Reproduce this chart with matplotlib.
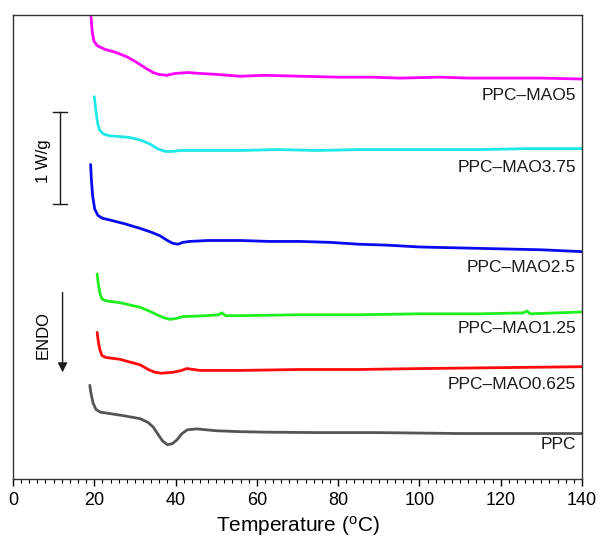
import matplotlib.pyplot as plt
from matplotlib.ticker import MultipleLocator

plt.rcParams['font.family'] = ['Liberation Sans', 'DejaVu Sans']
plt.rcParams['mathtext.fontset'] = 'custom'
plt.rcParams['mathtext.rm'] = 'Liberation Sans'

# DSC traces, heat flow stacked in W/g (T in degC)
t_mao5 = [19.1, 19.3, 19.5, 19.9, 20.7, 22.6, 25.1, 28.0, 30.4, 32.9, 34.5, 35.8, 37.8,
          39.9, 43.0, 46.0, 50.0, 55.9, 62.0, 70.6, 80.0, 88.0, 95.2, 105.0, 112.0,
          119.8, 130.0, 140.0]
hf_mao5 = [5.05, 4.92, 4.82, 4.72, 4.67, 4.63, 4.60, 4.55, 4.49, 4.42, 4.38, 4.36, 4.35,
           4.37, 4.38, 4.37, 4.36, 4.34, 4.35, 4.34, 4.33, 4.33, 4.32, 4.33, 4.32,
           4.32, 4.32, 4.31]

t_mao375 = [20.0, 20.4, 20.8, 21.3, 22.2, 23.5, 28.8, 31.5, 33.7, 35.5, 37.4, 39.1,
            41.1, 48.0, 55.9, 65.0, 75.0, 85.0, 100.0, 115.0, 127.0, 140.0]
hf_mao375 = [4.12, 3.97, 3.84, 3.76, 3.72, 3.70, 3.68, 3.65, 3.61, 3.56, 3.53, 3.53,
             3.54, 3.54, 3.54, 3.55, 3.54, 3.55, 3.55, 3.55, 3.56, 3.56]

t_mao25 = [19.1, 19.3, 19.6, 20.1, 20.9, 22.0, 23.9, 27.5, 31.3, 34.0, 36.2, 38.0,
           39.3, 40.6, 41.8, 43.5, 48.0, 55.9, 63.0, 70.6, 78.0, 85.0, 92.0, 100.1,
           110.0, 119.8, 130.0, 140.0]
hf_mao25 = [3.39, 3.22, 3.05, 2.91, 2.84, 2.81, 2.79, 2.75, 2.70, 2.66, 2.62, 2.57,
            2.54, 2.53, 2.55, 2.56, 2.57, 2.57, 2.56, 2.56, 2.55, 2.53, 2.52, 2.50,
            2.49, 2.48, 2.47, 2.45]

t_mao125 = [20.7, 21.0, 21.4, 21.9, 22.8, 26.3, 31.3, 33.5, 35.4, 37.0, 38.6, 40.2,
            41.8, 47.7, 50.6, 51.4, 52.3, 55.9, 70.6, 85.0, 100.1, 115.0, 125.6,
            126.4, 127.3, 140.0]
hf_mao125 = [2.21, 2.10, 2.00, 1.94, 1.92, 1.90, 1.85, 1.81, 1.77, 1.74, 1.72, 1.73,
             1.75, 1.76, 1.77, 1.79, 1.76, 1.76, 1.77, 1.77, 1.78, 1.78, 1.79, 1.81,
             1.78, 1.80]

t_mao0625 = [20.7, 21.0, 21.4, 21.9, 22.8, 26.3, 31.3, 33.3, 34.9, 36.5, 39.4, 41.5,
             42.7, 44.5, 46.0, 55.9, 70.6, 85.0, 100.1, 120.0, 140.0]
hf_mao0625 = [1.58, 1.48, 1.39, 1.33, 1.31, 1.29, 1.23, 1.18, 1.15, 1.14, 1.15, 1.17,
              1.19, 1.18, 1.17, 1.17, 1.18, 1.18, 1.19, 1.20, 1.21]

t_ppc = [18.9, 19.2, 19.7, 20.4, 21.5, 23.1, 27.5, 31.3, 33.2, 34.5, 35.7, 36.8,
         38.0, 39.2, 40.3, 41.6, 42.9, 45.2, 50.0, 55.9, 62.0, 75.0, 90.0, 110.0,
         125.0, 140.0]
hf_ppc = [1.01, 0.92, 0.82, 0.75, 0.72, 0.71, 0.68, 0.65, 0.61, 0.56, 0.48, 0.41,
          0.37, 0.38, 0.42, 0.49, 0.53, 0.54, 0.52, 0.51, 0.505, 0.50, 0.50, 0.49,
          0.49, 0.49]

names = ['PPC\u2013MAO5', 'PPC\u2013MAO3.75', 'PPC\u2013MAO2.5',
         'PPC\u2013MAO1.25', 'PPC\u2013MAO0.625', 'PPC']
label_y = [4.13, 3.36, 2.28, 1.62, 1.02, 0.37]
colors = ['#ff00ff', '#1ee8e8', '#0a0af0', '#1ef01e', '#ff0a0a', '#555555']

curves = [(t_mao5, hf_mao5), (t_mao375, hf_mao375), (t_mao25, hf_mao25),
          (t_mao125, hf_mao125), (t_mao0625, hf_mao0625), (t_ppc, hf_ppc)]

fig = plt.figure(figsize=(6.01, 5.49), dpi=100)
ax = fig.add_axes([0.0216, 0.1275, 0.9468, 0.8452])

for (t, hf), c, name, ly in zip(curves, colors, names, label_y):
    ax.plot(t, hf, color=c, lw=2.0, solid_joinstyle='round', solid_capstyle='round')
    ax.text(138.5, ly, name, ha='right', va='center', fontsize=12.5, color='#1a1a1a')

# 1 W/g scale bar
ax.plot([11.6, 11.6], [2.96, 3.96], color='#1a1a1a', lw=1.0)
for yy in (2.96, 3.96):
    ax.plot([9.9, 13.3], [yy, yy], color='#1a1a1a', lw=1.0)
ax.text(7.4, 3.42, '1 W/g', rotation=90, ha='center', va='center', fontsize=12)

# endotherm direction
ax.annotate('', xy=(12.2, 1.15), xytext=(12.2, 2.01),
            arrowprops=dict(arrowstyle='-|>', color='#1a1a1a', lw=1.0,
                            mutation_scale=14, shrinkA=0, shrinkB=0))
ax.text(7.4, 1.55, 'ENDO', rotation=90, ha='center', va='center', fontsize=12)

ax.set_xlim(0, 140)
ax.set_ylim(0, 5)
ax.xaxis.set_major_locator(MultipleLocator(20))
ax.xaxis.set_minor_locator(MultipleLocator(2))
ax.tick_params(axis='x', which='major', length=5, width=1.0, labelsize=13, pad=4)
ax.tick_params(axis='x', which='minor', length=3, width=0.8)
ax.set_yticks([])
for s in ax.spines.values():
    s.set_color('#333333')
    s.set_linewidth(1.0)
ax.set_xlabel('Temperature ($\\mathregular{^{o}}$C)', fontsize=15, labelpad=4)

fig.savefig('out.png', dpi=100)
